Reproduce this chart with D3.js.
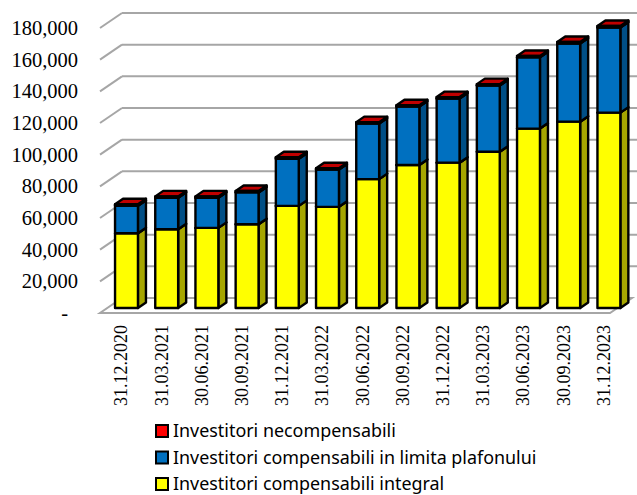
<!DOCTYPE html>
<html>
<head>
<meta charset="utf-8">
<script src="https://cdn.jsdelivr.net/npm/d3@7"></script>
</head>
<body style="margin:0;background:#fff">
<div id="chart"></div>
<script>
// values
const categories = ["31.12.2020", "31.03.2021", "30.06.2021", "30.09.2021", "31.12.2021", "31.03.2022",
  "30.06.2022", "30.09.2022", "31.12.2022", "31.03.2023", "30.06.2023", "30.09.2023", "31.12.2023"];
const integral = [47200, 49700, 50600, 52900, 64500, 63900, 81400, 90300, 91800, 98700, 113300, 117700, 123400];
const plafon = [17400, 19900, 19000, 20100, 29800, 23500, 35100, 36900, 40500, 41800, 45000, 49400, 53800];
const necomp = [900, 900, 900, 900, 900, 900, 900, 900, 900, 900, 900, 900, 900];
const yTicks = [0, 20000, 40000, 60000, 80000, 100000, 120000, 140000, 160000, 180000];

const seriesNames = ["Investitori necompensabili", "Investitori compensabili in limita plafonului", "Investitori compensabili integral"];

const w = 637;
const h = 495;

const svg = d3.select("#chart").append("svg")
  .attr("width", w)
  .attr("height", h)
  .style("display", "block")
  .style("font-family", '"Liberation Serif"');

const x = d3.scaleBand().domain(categories).range([106.4, 629]).paddingInner(0.43).paddingOuter(0.215);

// same scale for the three depth planes, only shifted
const y = d3.scaleLinear().domain([0, 180000]).range([313, 28]);
const wallDx = 22, wallDy = -15; // back wall relative to front edge
const barDy = -5;                // bars stand a bit behind the front edge
const sideDx = 8, sideDy = -5.5; // depth of one bar

const gridColor = "#a6a6a6";
const floorLeft = 100, floorRight = 610;

// floor
svg.append("path")
  .attr("d", `M${floorLeft},${y(0)}L${floorRight},${y(0)}L${floorRight + wallDx},${y(0) + wallDy}L${floorLeft + wallDx},${y(0) + wallDy}Z`)
  .attr("fill", "#fff")
  .attr("stroke", gridColor)
  .attr("stroke-width", 2);

// wall gridlines and the slanted bits on the left
svg.selectAll("line.grid").data(yTicks.slice(1)).enter().append("line")
  .attr("class", "grid")
  .attr("x1", floorLeft + wallDx)
  .attr("x2", w)
  .attr("y1", d => y(d) + wallDy)
  .attr("y2", d => y(d) + wallDy)
  .attr("stroke", gridColor)
  .attr("stroke-width", 2);

svg.selectAll("line.slant").data(yTicks.slice(1)).enter().append("line")
  .attr("class", "slant")
  .attr("x1", floorLeft)
  .attr("x2", floorLeft + wallDx)
  .attr("y1", d => y(d))
  .attr("y2", d => y(d) + wallDy)
  .attr("stroke", gridColor)
  .attr("stroke-width", 2);

// stacked bars
const stackData = categories.map((c, i) => ({ cat: c, integral: integral[i], plafon: plafon[i], necomp: necomp[i] }));
const stack = d3.stack().keys(["integral", "plafon", "necomp"]);
const layers = stack(stackData);
const fronts = { integral: "#ffff00", plafon: "#0070c0", necomp: "#ff0000" };
const sides = { integral: "#a6a600", plafon: "#004f86", necomp: "#a60000" };
const tops = { integral: "#c9c900", plafon: "#005a9c", necomp: "#c00000" };

const barG = svg.append("g").attr("stroke", "#000").attr("stroke-width", 2.4).attr("stroke-linejoin", "round");

layers.forEach(layer => {
  const key = layer.key;
  const g = barG.append("g");
  const by = v => y(v) + barDy;
  // side
  g.selectAll("path.side").data(layer).enter().append("path")
    .attr("class", "side")
    .attr("fill", sides[key])
    .attr("d", d => {
      const x1 = x(d.data.cat) + x.bandwidth();
      return `M${x1},${by(d[0])}L${x1 + sideDx},${by(d[0]) + sideDy}L${x1 + sideDx},${by(d[1]) + sideDy}L${x1},${by(d[1])}Z`;
    });
  // top
  g.selectAll("path.top").data(layer).enter().append("path")
    .attr("class", "top")
    .attr("fill", tops[key])
    .attr("d", d => {
      const x0 = x(d.data.cat), x1 = x0 + x.bandwidth();
      return `M${x0},${by(d[1])}L${x1},${by(d[1])}L${x1 + sideDx},${by(d[1]) + sideDy}L${x0 + sideDx},${by(d[1]) + sideDy}Z`;
    });
  // front
  g.selectAll("rect").data(layer).enter().append("rect")
    .attr("fill", fronts[key])
    .attr("x", d => x(d.data.cat))
    .attr("width", x.bandwidth())
    .attr("y", d => by(d[1]))
    .attr("height", d => by(d[0]) - by(d[1]));
});

// y axis, zero is shown as a dash
const yAxis = d3.axisLeft(y)
  .tickValues(yTicks)
  .tickSize(0)
  .tickFormat(d => d === 0 ? "-" : d3.format(",")(d));

const yG = svg.append("g").attr("transform", "translate(78,0)").call(yAxis);
yG.attr("font-family", null).attr("font-size", null);
yG.select(".domain").remove();
yG.selectAll("text")
  .attr("x", 0)
  .attr("fill", "#000")
  .style("font-family", '"Liberation Serif"')
  .style("font-size", "20.5px");
yG.selectAll("text").filter(d => d === 0).attr("x", -10);

// x axis, labels stand vertically
const xAxis = d3.axisBottom(x).tickSize(0);
const xG = svg.append("g").attr("transform", "translate(-5.5,325)").call(xAxis);
xG.attr("font-family", null).attr("font-size", null);
xG.select(".domain").remove();
xG.selectAll("text")
  .attr("transform", "rotate(-90)")
  .attr("text-anchor", "end")
  .attr("x", 0)
  .attr("y", 0)
  .attr("dy", "0.35em")
  .attr("fill", "#000")
  .style("font-family", '"Liberation Serif"')
  .style("font-size", "18px");

// legend
const legendColors = [fronts.necomp, fronts.plafon, fronts.integral];
const legendY = d3.scalePoint().domain(seriesNames).range([431, 484]);

const legendRows = svg.selectAll("g.row").data(seriesNames).enter().append("g")
  .attr("class", "row")
  .attr("transform", d => `translate(155,${legendY(d)})`);

legendRows.append("rect")
  .attr("x", 1)
  .attr("y", -6)
  .attr("width", 12)
  .attr("height", 12)
  .attr("fill", (d, i) => legendColors[i])
  .attr("stroke", "#000")
  .attr("stroke-width", 2);

legendRows.append("text")
  .attr("x", 18)
  .attr("dy", "0.35em")
  .attr("fill", "#000")
  .style("font-family", '"Noto Sans"')
  .style("font-size", "17.9px")
  .text(d => d);
</script>
</body>
</html>
